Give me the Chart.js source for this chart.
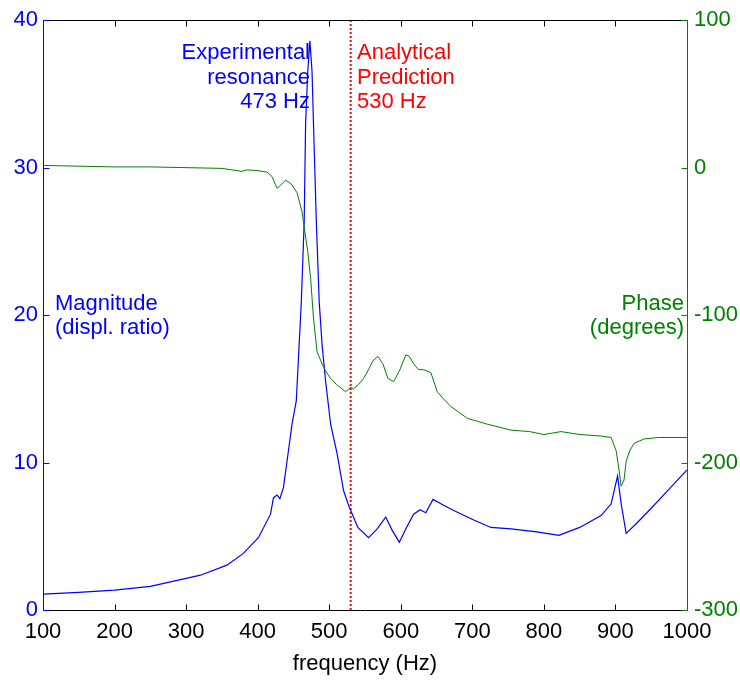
<!DOCTYPE html>
<html>
<head>
<meta charset="utf-8">
<script src="https://cdn.jsdelivr.net/npm/chart.js@4"></script>
<style>
  body { margin: 0; background: #fff; }
</style>
</head>
<body>
<canvas id="freqChart" width="740" height="680"></canvas>
<script>
// magnitude (displacement ratio) vs frequency
const magFreq = [100, 150, 200, 250, 300, 320, 357, 380, 401, 418, 422, 427, 431, 436, 443, 448, 454, 461, 465, 467, 470, 473, 476, 478, 482, 486, 490, 495, 502, 511, 520, 527, 540, 555, 567, 579, 588, 598, 608, 618, 627, 635, 645, 660, 674, 702, 726, 754, 790, 821, 850, 880, 894, 903, 908, 915, 930, 950, 975, 1000];
const magVal  = [1.08, 1.2, 1.35, 1.6, 2.15, 2.36, 3.04, 3.84, 4.9, 6.5, 7.6, 7.8, 7.55, 8.3, 10.8, 12.6, 14.2, 20.9, 26.3, 33, 36.5, 38.6, 36.5, 33, 26.3, 20.9, 18, 15.5, 12.6, 10.6, 8.1, 7.1, 5.6, 4.9, 5.5, 6.3, 5.4, 4.6, 5.6, 6.5, 6.8, 6.6, 7.5, 7.1, 6.75, 6.1, 5.6, 5.5, 5.3, 5.06, 5.6, 6.4, 7.2, 9.1, 7.2, 5.2, 5.9, 6.9, 8.2, 9.5];

// phase (degrees) vs frequency
const phFreq = [100, 150, 200, 250, 300, 350, 378, 385, 400, 413, 420, 427, 432, 439, 447, 455, 462, 470, 474, 478, 483, 490, 495, 502, 510, 523, 530, 534, 541, 548, 555, 561, 568, 575, 582, 590, 598, 607, 612, 618, 625, 632, 642, 651, 660, 670, 693, 721, 754, 780, 800, 824, 850, 880, 894, 901, 905, 908, 912, 915, 920, 926, 940, 960, 1000];
const phVal  = [1.5, 1, 0.5, 0.5, 0, -0.5, -2.5, -1.5, -2, -3, -6, -14, -12, -8.5, -11, -17, -30, -57, -75, -102, -125, -133, -138, -143, -147, -152, -149, -150, -147, -143, -137, -131, -128, -133, -143, -145, -138, -127, -128, -133, -137, -137, -139, -152, -157, -162, -170, -174, -178, -179, -181, -179, -181, -182, -183, -192, -205, -216, -212, -199, -192, -187, -184, -183, -183];

// analytical prediction marker
const predictionHz = 530;

const xTicks = [100, 200, 300, 400, 500, 600, 700, 800, 900, 1000];
const magTicks = [0, 10, 20, 30, 40];
const phaseTicks = [-300, -200, -100, 0, 100];

const FONT = 'Liberation Sans, Arial, sans-serif';
const BLUE = '#0000ff';
const GREEN = '#008000';
const RED = '#ff0000';

function toPoints(xs, ys) {
    return xs.map((x, i) => ({ x: x, y: ys[i] }));
}

// axes frame, inward ticks and the text annotations
const matlabAxes = {
    id: 'matlabAxes',
    afterDatasetsDraw(chart) {
        const ctx = chart.ctx;
        const area = chart.chartArea;
        const xs = chart.scales.x, yl = chart.scales.y, yr = chart.scales.y1;
        const L = Math.round(area.left) + 0.5, R = Math.round(area.right) + 0.5;
        const T = Math.round(area.top) + 0.5, B = Math.round(area.bottom) + 0.5;
        ctx.save();
        ctx.lineWidth = 1;
        ctx.strokeStyle = '#000';
        ctx.beginPath();
        ctx.moveTo(L, T); ctx.lineTo(R, T);
        ctx.moveTo(L, B); ctx.lineTo(R, B);
        xTicks.forEach(v => {
            const px = Math.round(xs.getPixelForValue(v)) + 0.5;
            ctx.moveTo(px, B); ctx.lineTo(px, B - 6);
            ctx.moveTo(px, T); ctx.lineTo(px, T + 6);
        });
        ctx.stroke();

        ctx.strokeStyle = BLUE;
        ctx.beginPath();
        ctx.moveTo(L, T); ctx.lineTo(L, B);
        magTicks.forEach(v => {
            const py = Math.round(yl.getPixelForValue(v)) + 0.5;
            ctx.moveTo(L, py); ctx.lineTo(L + 6, py);
        });
        ctx.stroke();

        ctx.strokeStyle = GREEN;
        ctx.beginPath();
        ctx.moveTo(R, T); ctx.lineTo(R, B);
        phaseTicks.forEach(v => {
            const py = Math.round(yr.getPixelForValue(v)) + 0.5;
            ctx.moveTo(R, py); ctx.lineTo(R - 6, py);
        });
        ctx.stroke();

        ctx.font = '22px ' + FONT;
        ctx.textBaseline = 'middle';
        ctx.fillStyle = BLUE;
        ctx.textAlign = 'right';
        ctx.fillText('Experimental', 310, 53);
        ctx.fillText('resonance', 310, 78);
        ctx.fillText('473 Hz', 310, 102);
        ctx.textAlign = 'left';
        ctx.fillText('Magnitude', 55, 304);
        ctx.fillText('(displ. ratio)', 55, 328);

        ctx.fillStyle = RED;
        ctx.fillText('Analytical', 357, 53);
        ctx.fillText('Prediction', 357, 78);
        ctx.fillText('530 Hz', 357, 102);

        ctx.fillStyle = GREEN;
        ctx.textAlign = 'right';
        ctx.fillText('Phase', 684, 304);
        ctx.fillText('(degrees)', 684, 328);
        ctx.restore();
    }
};

const ctx = document.getElementById('freqChart').getContext('2d');
new Chart(ctx, {
    type: 'line',
    data: {
        datasets: [
            {
                label: 'Phase',
                data: toPoints(phFreq, phVal),
                yAxisID: 'y1',
                borderColor: GREEN,
                borderWidth: 1,
                pointRadius: 0,
                tension: 0
            },
            {
                label: 'Magnitude',
                data: toPoints(magFreq, magVal),
                yAxisID: 'y',
                borderColor: BLUE,
                borderWidth: 1.2,
                pointRadius: 0,
                tension: 0
            },
            {
                label: 'Analytical prediction',
                data: [{ x: predictionHz, y: 0 }, { x: predictionHz, y: 40 }],
                yAxisID: 'y',
                borderColor: RED,
                borderWidth: 2,
                borderDash: [2, 2],
                pointRadius: 0
            }
        ]
    },
    options: {
        responsive: false,
        animation: false,
        layout: { padding: { top: 15, left: 0, right: 0, bottom: 0 } },
        plugins: {
            legend: { display: false },
            tooltip: { enabled: false }
        },
        scales: {
            x: {
                type: 'linear',
                min: 100,
                max: 1000,
                afterBuildTicks: s => { s.ticks = xTicks.map(v => ({ value: v })); },
                afterFit: s => { s.height = 70; },
                grid: { display: false, drawTicks: false },
                border: { display: false },
                ticks: {
                    color: '#000',
                    font: { family: FONT, size: 22 },
                    padding: 9,
                    maxRotation: 0,
                    autoSkip: false,
                    callback: v => String(v)
                },
                title: {
                    display: true,
                    text: 'frequency (Hz)',
                    color: '#000',
                    font: { family: FONT, size: 22 },
                    padding: { top: 0, bottom: 3 }
                }
            },
            y: {
                position: 'left',
                min: 0,
                max: 40,
                afterBuildTicks: s => { s.ticks = magTicks.map(v => ({ value: v })); },
                afterFit: s => { s.width = 43; },
                grid: { display: false, drawTicks: false },
                border: { display: false },
                ticks: { color: BLUE, font: { family: FONT, size: 22 }, padding: 5 }
            },
            y1: {
                position: 'right',
                min: -300,
                max: 100,
                afterBuildTicks: s => { s.ticks = phaseTicks.map(v => ({ value: v })); },
                afterFit: s => { s.width = 53; },
                grid: { display: false, drawTicks: false },
                border: { display: false },
                ticks: { color: GREEN, font: { family: FONT, size: 22 }, padding: 7 }
            }
        }
    },
    plugins: [matlabAxes]
});
</script>
</body>
</html>
